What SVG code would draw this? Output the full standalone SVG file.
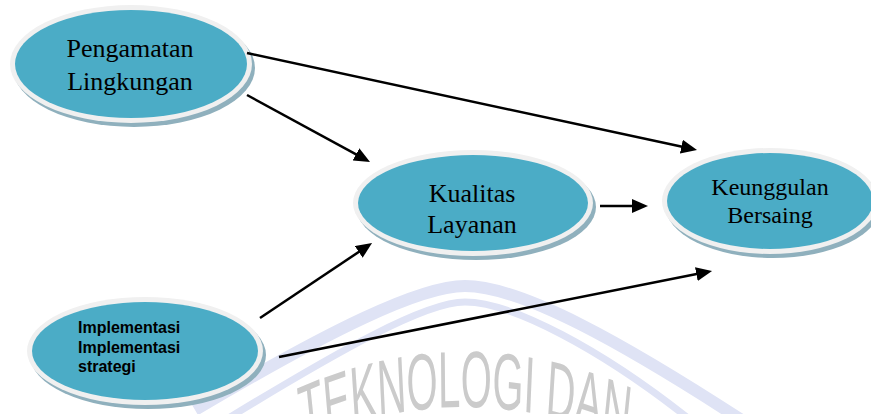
<svg xmlns="http://www.w3.org/2000/svg" width="871" height="414" viewBox="0 0 871 414">
<defs>
<style>
.shadow{fill:#8fb0bd}
.rim{fill:#f0f0f0}
.core{fill:#4bacc6}
.serif{font-family:"Liberation Serif","Times New Roman",serif;fill:#000;text-anchor:middle}
.bold{font-family:"Liberation Sans",Arial,sans-serif;font-weight:bold;font-size:16px;fill:#000}
.conn{stroke:#000;stroke-width:2.5;fill:none;marker-end:url(#arrow)}
.band{fill:none;stroke:#dfe3f5}
</style>
<marker id="arrow" viewBox="0 0 16 14" refX="8" refY="7" markerWidth="16" markerHeight="14" markerUnits="userSpaceOnUse" orient="auto">
<path d="M0,0 L16,7 L0,14 Z" fill="#000"/>
</marker>
<path id="wmArc" d="M-35,394.5 A750,750 0 0 1 965,394.5"/>
</defs>
<rect width="871" height="414" fill="#fff"/>
<g id="watermark">
<path class="band" stroke-width="12" d="M195,410 C330,330 420,286 465,286 C520,286 620,340 760,432"/>
<path class="band" stroke-width="7" d="M222,422 C340,350 425,302 465,302 C510,302 600,347 698,426"/>
<g transform="scale(1,2)">
<text font-family="'Liberation Sans',Arial,sans-serif" font-size="40" fill="#cbcbcb"><textPath href="#wmArc" startOffset="50%" text-anchor="middle">TEKNOLOGI DAN</textPath></text>
</g>
</g>
<g id="node-pengamatan">
<ellipse class="shadow" cx="134" cy="68" rx="121" ry="59"/>
<ellipse class="rim" cx="131" cy="64" rx="121" ry="59"/>
<ellipse class="core" cx="131" cy="64" rx="116" ry="54"/>
<text class="serif" font-size="26" x="130" y="57">Pengamatan</text>
<text class="serif" font-size="26" x="130" y="90">Lingkungan</text>
</g>
<g id="node-kualitas">
<ellipse class="shadow" cx="476" cy="207" rx="120" ry="53"/>
<ellipse class="rim" cx="473" cy="203" rx="120" ry="53"/>
<ellipse class="core" cx="473" cy="203" rx="115" ry="48"/>
<text class="serif" font-size="26" x="472" y="202">Kualitas</text>
<text class="serif" font-size="26" x="472" y="233">Layanan</text>
</g>
<g id="node-keunggulan">
<ellipse class="shadow" cx="773" cy="205" rx="108" ry="53"/>
<ellipse class="rim" cx="770" cy="201" rx="108" ry="53"/>
<ellipse class="core" cx="770" cy="201" rx="103" ry="48"/>
<text class="serif" font-size="24" x="770" y="195">Keunggulan</text>
<text class="serif" font-size="24" x="770" y="223">Bersaing</text>
</g>
<g id="node-implementasi">
<ellipse class="shadow" cx="148" cy="355" rx="118" ry="54"/>
<ellipse class="rim" cx="145" cy="351" rx="118" ry="54"/>
<ellipse class="core" cx="145" cy="351" rx="113" ry="49"/>
<text class="bold" x="78" y="333">Implementasi</text>
<text class="bold" x="78" y="353">Implementasi</text>
<text class="bold" x="78" y="372">strategi</text>
</g>
<g id="connectors">
<line class="conn" x1="247" y1="53" x2="689.2" y2="148.3"/>
<line class="conn" x1="247" y1="95" x2="363" y2="158.2"/>
<line class="conn" x1="600" y1="206" x2="640" y2="206"/>
<line class="conn" x1="260" y1="318" x2="365.4" y2="247.5"/>
<line class="conn" x1="279" y1="357" x2="704.2" y2="272.6"/>
</g>
</svg>
